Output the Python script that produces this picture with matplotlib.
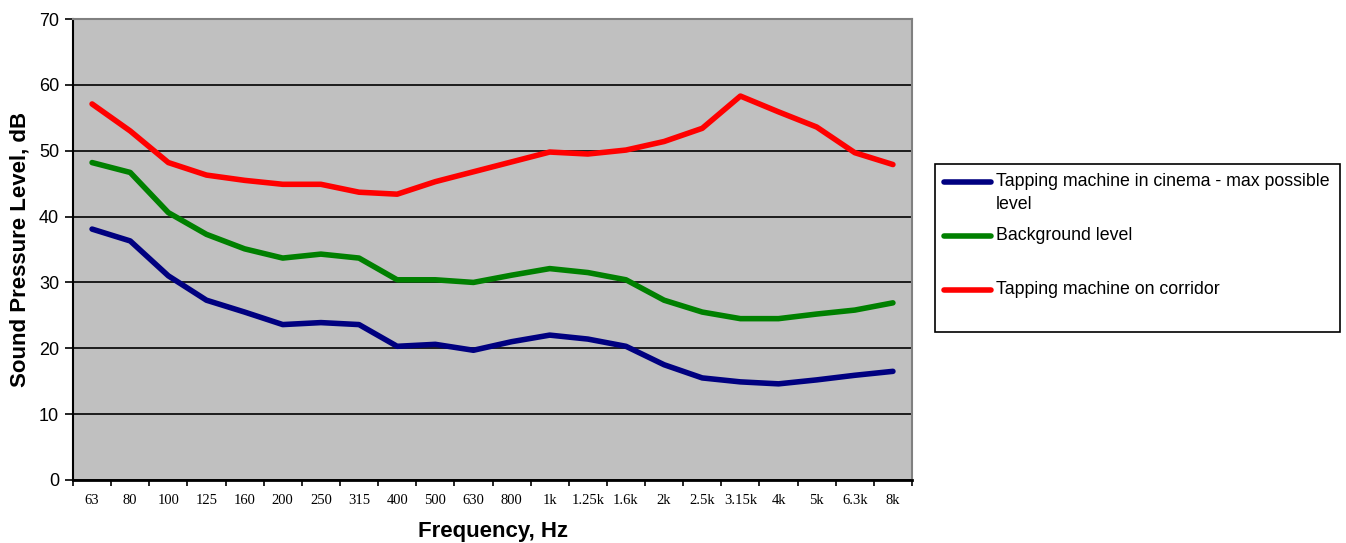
import matplotlib
matplotlib.use("Agg")
import matplotlib.pyplot as plt
from matplotlib.lines import Line2D
from matplotlib.patches import Rectangle
import numpy as np

categories = ["63", "80", "100", "125", "160", "200", "250", "315", "400", "500", "630",
              "800", "1k", "1.25k", "1.6k", "2k", "2.5k", "3.15k", "4k", "5k", "6.3k", "8k"]
cinema = [38.1, 36.3, 31.0, 27.3, 25.5, 23.6, 23.9, 23.6, 20.3, 20.6, 19.7,
          21.0, 22.0, 21.4, 20.3, 17.5, 15.5, 14.9, 14.6, 15.2, 15.9, 16.5]
background = [48.2, 46.7, 40.6, 37.3, 35.1, 33.7, 34.3, 33.7, 30.4, 30.4, 30.0,
              31.1, 32.1, 31.5, 30.4, 27.3, 25.5, 24.5, 24.5, 25.2, 25.8, 26.9]
corridor = [57.1, 53.0, 48.2, 46.3, 45.5, 44.9, 44.9, 43.7, 43.4, 45.3, 46.8,
            48.3, 49.8, 49.5, 50.1, 51.4, 53.4, 58.3, 55.9, 53.6, 49.7, 47.9]
labels = ["Tapping machine in cinema - max possible\nlevel", "Background level",
          "Tapping machine on corridor"]
colors = ["#000080", "#008000", "#FF0000"]
yticks = [0, 10, 20, 30, 40, 50, 60, 70]

W, H = 1346, 543
fig = plt.figure(figsize=(W / 100, H / 100), dpi=100)
ax = fig.add_axes([73 / W, 1 - 480 / H, (912 - 73) / W, (480 - 19) / H])
ax.set_facecolor("#C0C0C0")

x = np.arange(len(categories))
for series, c in zip([cinema, background, corridor], colors):
    ax.plot(x, series, color=c, lw=4, solid_capstyle="round", solid_joinstyle="round", zorder=3)

ax.set_xlim(-0.5, len(categories) - 0.5)
ax.set_ylim(0, 70)
ax.set_yticks(yticks)
ax.yaxis.grid(True, color="black", lw=1.2)
ax.set_axisbelow(True)
ax.tick_params(axis="y", labelsize=13, length=6, direction="out", width=1.2, pad=4)
for lab in ax.get_yticklabels():
    lab.set_family("Liberation Sans")

ax.set_xticks(np.arange(-0.5, len(categories), 1.0))
ax.set_xticklabels([])
ax.set_xticks(x, minor=True)
ax.set_xticklabels(categories, minor=True, fontsize=10.5, family="Liberation Serif")
ax.tick_params(axis="x", which="major", length=4, direction="out", width=1.2)
ax.tick_params(axis="x", which="minor", length=0, pad=10)

ax.spines["bottom"].set_color("black")
ax.spines["bottom"].set_linewidth(2)
ax.spines["left"].set_color("black")
ax.spines["left"].set_linewidth(1.5)
for s in ["top", "right"]:
    ax.spines[s].set_color("#808080")
    ax.spines[s].set_linewidth(1.5)

ax.set_xlabel("Frequency, Hz", fontsize=16, fontweight="bold", family="Liberation Sans", labelpad=10)
ax.set_ylabel("Sound Pressure Level, dB", fontsize=16, fontweight="bold", family="Liberation Sans", labelpad=6)

# Legend (manual, figure coordinates)
fig.patches.append(Rectangle((935 / W, 1 - 332 / H), (1340 - 935) / W, (332 - 164) / H,
                             transform=fig.transFigure, facecolor="white", edgecolor="black", lw=1.2))
entry_y = [182, 236, 290]
for lab, c, yy in zip(labels, colors, entry_y):
    fig.lines.append(Line2D([944 / W, 991 / W], [1 - yy / H, 1 - yy / H], transform=fig.transFigure,
                            color=c, lw=4, solid_capstyle="round"))
    fig.text(996 / W, 1 - (yy - 9) / H, lab, fontsize=12.8, family="Liberation Sans",
             va="top", ha="left", linespacing=1.45)

fig.savefig("out.png", dpi=100)
